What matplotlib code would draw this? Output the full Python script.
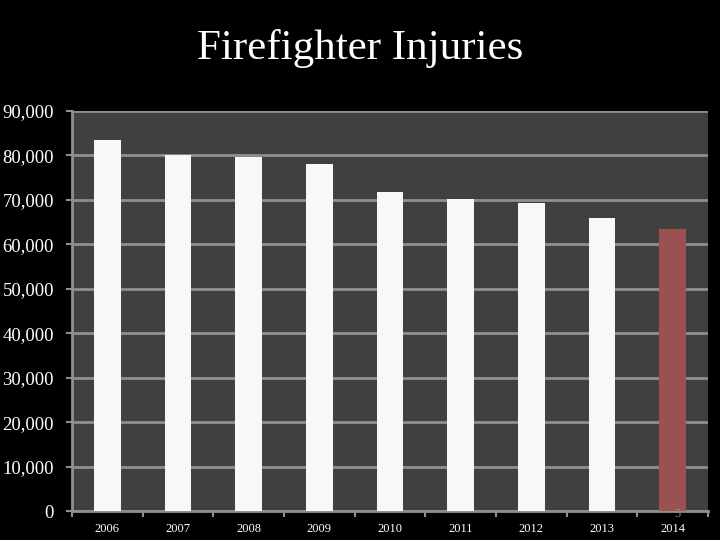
import matplotlib
matplotlib.use("Agg")
import matplotlib.pyplot as plt
from matplotlib.ticker import FuncFormatter, FixedLocator

# data
years = ["2006", "2007", "2008", "2009", "2010", "2011", "2012", "2013", "2014"]
injuries = [83400, 80100, 79700, 78150, 71875, 70090, 69400, 65880, 63350]
bar_colors = ["#f8f8f8"] * 8 + ["#9b5151"]

plt.rcParams["font.family"] = ["Liberation Serif", "DejaVu Serif"]

fig = plt.figure(figsize=(7.2, 5.4), dpi=100, facecolor="black")
ax = fig.add_axes([72 / 720, 29 / 540, 636 / 720, 400 / 540])
ax.set_facecolor("#404040")

x = range(len(years))
ax.bar(x, injuries, width=0.38, color=bar_colors, zorder=3)

ax.set_xlim(-0.5, len(years) - 0.5)
ax.set_ylim(0, 90000)
ax.set_yticks(range(0, 90001, 10000))
ax.yaxis.set_major_formatter(FuncFormatter(lambda v, p: f"{int(v):,}"))
ax.grid(axis="y", color="#8f8f8f", linewidth=2, zorder=1)

ax.set_xticks(list(x))
ax.set_xticklabels(years)
ax.xaxis.set_minor_locator(FixedLocator([i - 0.5 for i in range(len(years) + 1)]))
ax.tick_params(axis="x", which="major", length=0, colors="white", labelsize=9, pad=9)
ax.tick_params(axis="x", which="minor", length=4, color="#8f8f8f", width=1.5)
ax.tick_params(axis="y", length=4, color="#8f8f8f", width=1.5, labelcolor="white",
               labelsize=13.5, pad=9)

for side in ["top", "right"]:
    ax.spines[side].set_visible(False)
for side in ["left", "bottom"]:
    ax.spines[side].set_color("#8f8f8f")
    ax.spines[side].set_linewidth(2)

fig.text(0.5, 1 - 49 / 540, "Firefighter Injuries", color="white", fontsize=31,
         ha="center", va="center")
fig.text(677 / 720, 1 - 514 / 540, "5", color="#8c8c8c", fontsize=9,
         ha="center", va="center")

fig.savefig("out.png", dpi=100, facecolor="black")
